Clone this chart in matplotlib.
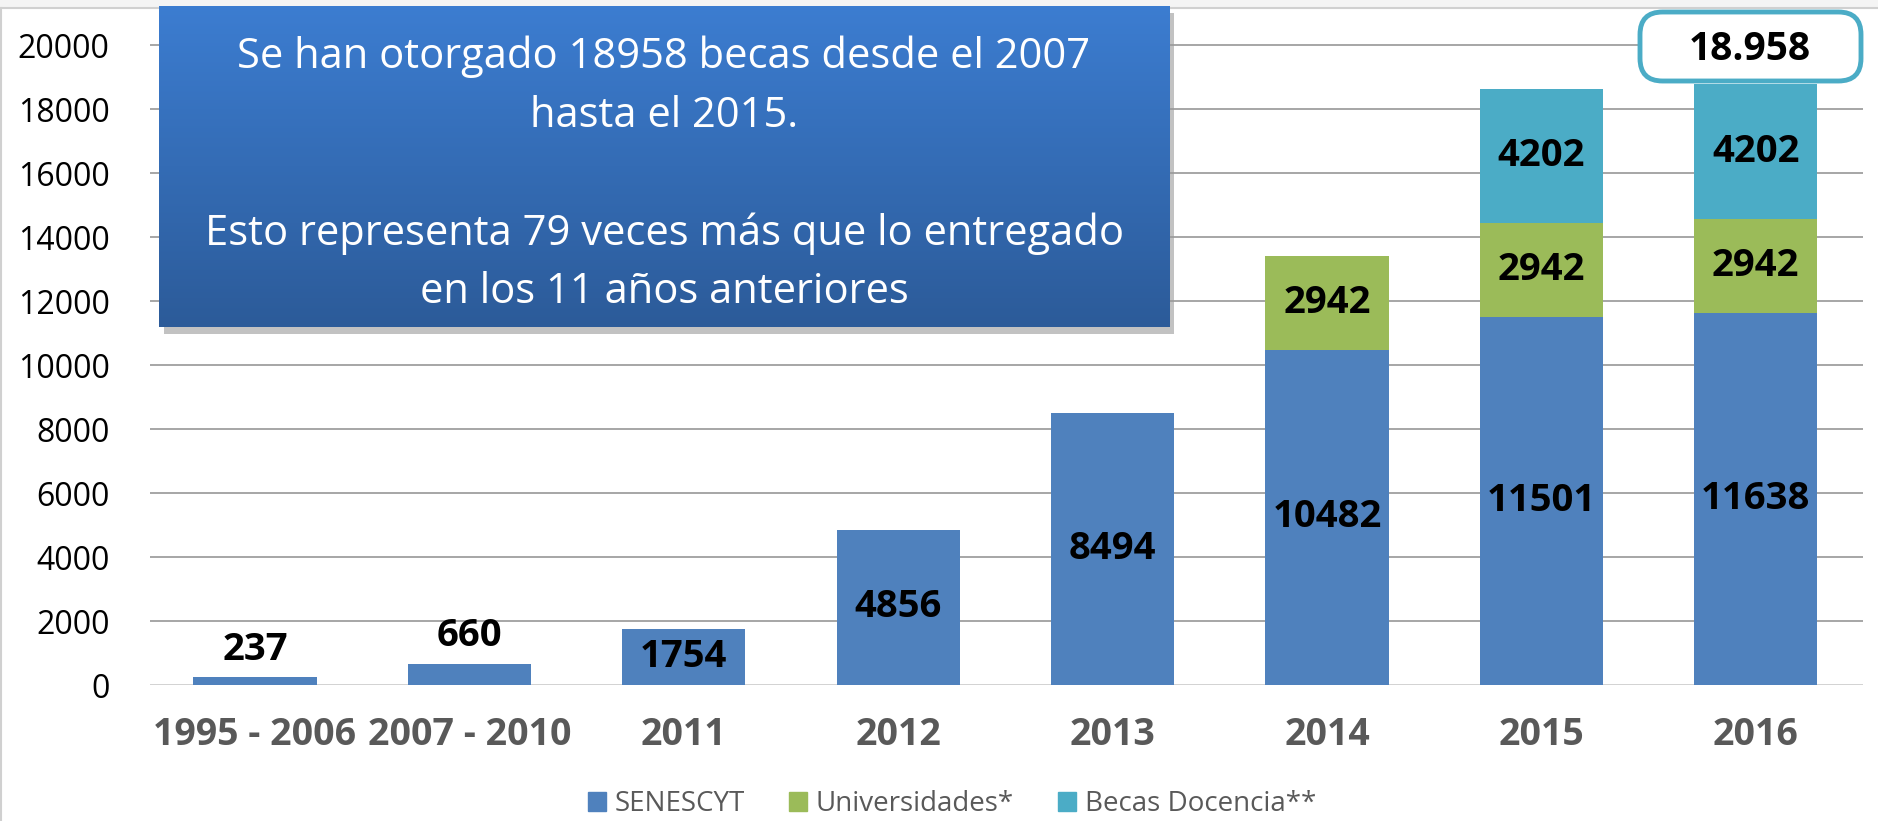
import numpy as np
import matplotlib.pyplot as plt
from matplotlib.patches import FancyBboxPatch, Rectangle, Patch
from matplotlib.colors import LinearSegmentedColormap

plt.rcParams['font.family'] = ['Open Sans', 'DejaVu Sans']

# datos
periodos = ['1995 - 2006', '2007 - 2010', '2011', '2012', '2013', '2014', '2015', '2016']
senescyt = [237, 660, 1754, 4856, 8494, 10482, 11501, 11638]
universidades = [0, 0, 0, 0, 0, 2942, 2942, 2942]
becas_docencia = [0, 0, 0, 0, 0, 0, 4202, 4202]
total_texto = '18.958'
mensaje = ('Se han otorgado 18958 becas desde el 2007\nhasta el 2015.\n\n'
           'Esto representa 79 veces más que lo entregado\nen los 11 años anteriores')

c_sen = '#4F81BD'
c_uni = '#9BBB59'
c_bec = '#4BACC6'

W, H = 1878, 821
fig = plt.figure(figsize=(W / 100, H / 100), dpi=100)

# marco de la diapositiva
fig.patches.append(Rectangle((0, 1 - 8.5 / H), 1, 8.5 / H, transform=fig.transFigure,
                             facecolor='#F4F4F4', edgecolor='none', zorder=0))
fig.add_artist(plt.Line2D([0, 1], [1 - 8.5 / H] * 2, color='#D0D0D0', lw=1.5))
fig.add_artist(plt.Line2D([1 / W] * 2, [0, 1 - 8.5 / H], color='#D0D0D0', lw=1.5))

ax = fig.add_axes([150 / W, 136 / H, 1713 / W, 671.5 / H])
ax.patch.set_alpha(0)

x = np.arange(len(periodos))
sen = np.array(senescyt)
uni = np.array(universidades)
bec = np.array(becas_docencia)
w = 0.575

ax.bar(x, sen, w, color=c_sen, zorder=3)
ax.bar(x, uni, w, bottom=sen, color=c_uni, zorder=3)
ax.bar(x, bec, w, bottom=sen + uni, color=c_bec, zorder=3)

lbl = dict(ha='center', va='center', fontsize=27.5, fontweight='bold', color='black', zorder=5)
for i in range(len(x)):
    if sen[i] < 1000:
        ax.annotate(str(sen[i]), (x[i], sen[i]), xytext=(0, 20), textcoords='offset points', **lbl)
    else:
        ax.text(x[i], sen[i] / 2, str(sen[i]), **lbl)
    if uni[i] > 0:
        ax.text(x[i], sen[i] + uni[i] / 2, str(uni[i]), **lbl)
    if bec[i] > 0:
        ax.text(x[i], sen[i] + uni[i] + bec[i] / 2, str(bec[i]), **lbl)

ax.set_xlim(-0.49, 7.5)
ax.set_ylim(0, 21000)
ax.set_yticks(range(0, 20001, 2000))
ax.set_xticks(x)
ax.set_xticklabels(periodos, fontsize=27, fontweight='bold', color='#595959')
ax.tick_params(axis='y', length=0, pad=29, labelsize=23, labelcolor='black')
ax.tick_params(axis='x', length=0, pad=22)
ax.grid(axis='y', color='#A6A6A6', linewidth=1.4, zorder=0)
for s in ax.spines.values():
    s.set_visible(False)
ax.axhline(0, color='#D9D9D9', linewidth=2, zorder=2)

# recuadro azul con degradado
bx0, by0, bw, bh = 159 / W, (H - 327) / H, 1010 / W, 321 / H
fig.patches.append(Rectangle((bx0 + 5 / W, by0 - 7 / H), bw, bh, transform=fig.transFigure,
                             facecolor='#9A9A9A', alpha=0.6, zorder=8))
bax = fig.add_axes([bx0, by0, bw, bh], zorder=9)
grad = np.linspace(0, 1, 256).reshape(-1, 1)
cmap = LinearSegmentedColormap.from_list('azul', ['#3C7DD1', '#2C5B99'])
bax.imshow(grad, aspect='auto', cmap=cmap, extent=[0, 1, 0, 1])
bax.axis('off')
bax.text(0.5, 0.475, mensaje, ha='center', va='center', color='white', fontsize=30,
         linespacing=1.52, transform=bax.transAxes)

# total
fig.patches.append(FancyBboxPatch((1640 / W, 1 - 81 / H), 221 / W, 69 / H,
                                  boxstyle='round,pad=0,rounding_size=0.012',
                                  transform=fig.transFigure, facecolor='white',
                                  edgecolor=c_bec, linewidth=3.5, zorder=10,
                                  mutation_aspect=W / H))
fig.text(1750 / W, 1 - 49 / H, total_texto, ha='center', va='center', fontsize=28,
         fontweight='bold', color='black', zorder=11)

# leyenda
handles = [Patch(color=c_sen, label='SENESCYT'),
           Patch(color=c_uni, label='Universidades*'),
           Patch(color=c_bec, label='Becas Docencia**')]
fig.legend(handles=handles, loc='center', bbox_to_anchor=(0.507, 17 / H), ncol=3,
           frameon=False, fontsize=20, handlelength=0.65, handleheight=0.65,
           handletextpad=0.3, columnspacing=1.6, labelcolor='#595959',
           borderpad=0)

fig.savefig('out.png', dpi=100)
